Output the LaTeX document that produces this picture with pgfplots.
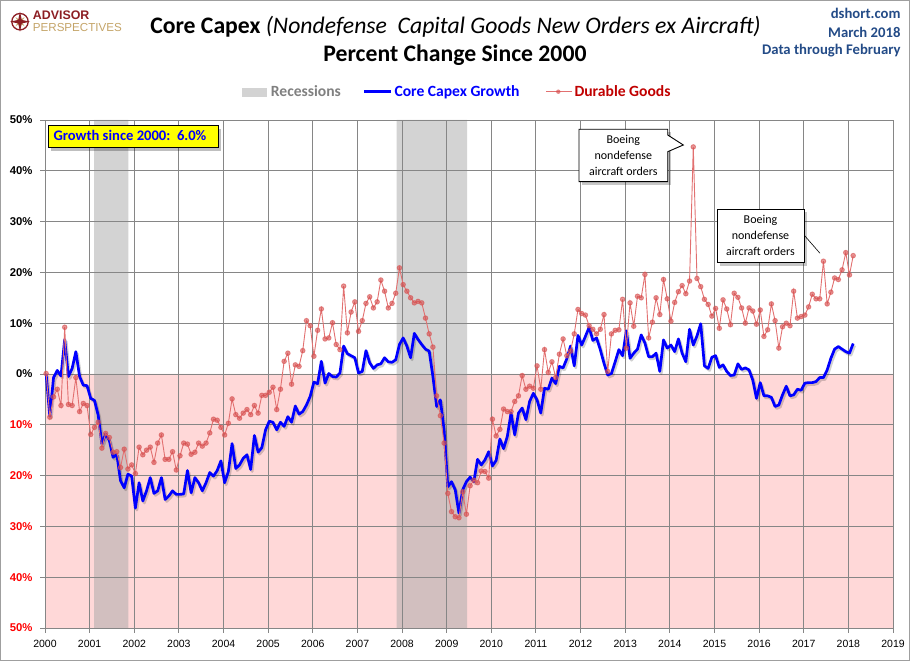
\documentclass[border=0pt]{standalone}
\usepackage{pgfplots}
\pgfplotsset{compat=1.18}
\usepackage{pgfplotstable}
\usepackage{fontspec}
\setmainfont{Carlito}
\newfontfamily\tickfont{Liberation Sans}
\definecolor{gridgray}{RGB}{134,134,134}
\definecolor{pinkbg}{RGB}{255,216,216}
\definecolor{recgray}{RGB}{211,211,211}
\definecolor{recpink}{RGB}{210,191,191}
\definecolor{coreblue}{RGB}{0,0,255}
\definecolor{durred}{RGB}{215,80,80}
\definecolor{durline}{RGB}{226,112,112}
\definecolor{legred}{RGB}{192,0,0}
\definecolor{hdrblue}{RGB}{35,75,135}
\definecolor{apred}{RGB}{140,30,35}
\definecolor{aptan}{RGB}{196,164,104}
\definecolor{negred}{RGB}{255,0,0}
\definecolor{leggray}{RGB}{128,128,128}
\definecolor{boxyellow}{RGB}{255,255,0}

\pgfplotstableread{
m core dur
0 0 0.1
1 -8.3 -8.5
2 -0.7 -4.5
3 0.7 -3
4 -0.4 -6.2
5 6.8 9.2
6 -0.5 -6
7 1.1 -6.2
8 4.4 -0.7
9 -0.5 -7.4
10 -2.2 -5.8
11 -2.3 -6.2
12 -4.8 -11.9
13 -5.2 -10.5
14 -8.1 -9.5
15 -13.8 -14.6
16 -11.8 -11.7
17 -13.1 -12.5
18 -16.4 -15.4
19 -15.8 -15.3
20 -21 -18.4
21 -22.4 -14.8
22 -19.7 -18.7
23 -20.1 -17.9
24 -26.4 -19.6
25 -21.4 -14.4
26 -25 -15.9
27 -23 -15
28 -20.4 -14.4
29 -23.5 -17.4
30 -23 -13.6
31 -20.4 -12
32 -24.7 -16.8
33 -24 -16.8
34 -23 -15.3
35 -23.7 -18.9
36 -23.7 -16.1
37 -23.6 -13.6
38 -19 -13.8
39 -23.4 -15.8
40 -20.4 -15.4
41 -21.4 -13.6
42 -23 -14.2
43 -21.4 -13.6
44 -19.4 -11.6
45 -20.1 -8.9
46 -19 -9.1
47 -17.1 -10.5
48 -21.4 -12
49 -19.2 -9.7
50 -13.7 -4.9
51 -18.6 -8
52 -17.9 -8.7
53 -16.6 -7.7
54 -15.9 -7
55 -18.8 -8
56 -12.1 -6.2
57 -15.4 -7.7
58 -14.5 -4.2
59 -11 -4.2
60 -9.3 -3.6
61 -9.5 -2.6
62 -11 -7
63 -9.5 -3
64 -10.3 2.5
65 -8.4 4.1
66 -9.5 -2
67 -6.3 1.8
68 -7.9 1.5
69 -7.4 4.6
70 -6.1 10.5
71 -4.4 9.5
72 -1.6 3.5
73 -1.9 8.6
74 2.5 12.8
75 -1.8 6.9
76 0.1 7.1
77 -0.5 10.1
78 -0.6 5.8
79 0.2 4.8
80 5.5 17.3
81 4 8.1
82 3.6 12.2
83 3.2 14.2
84 0.2 8.4
85 0.5 10.5
86 4.6 13.9
87 2.2 15.2
88 1.1 13
89 1.8 14.2
90 2 18.5
91 3.2 16.3
92 2.4 13
93 2.3 13.9
94 2.8 15.9
95 5.8 20.9
96 7.1 17.6
97 5.5 16.3
98 3.2 15
99 8.0 14
100 6.8 14.3
101 5.8 14
102 4.9 11
103 4.5 7.9
104 -0.5 5.3
105 -6.4 -4.3
106 -5.1 -8.2
107 -11 -13.6
108 -22.2 -23.5
109 -21.2 -27.1
110 -22.8 -28.1
111 -27.4 -28.3
112 -22.8 -23.2
113 -21.2 -27.6
114 -20.3 -22
115 -21.2 -20.9
116 -16.8 -21.4
117 -17.9 -19.1
118 -16.9 -19.2
119 -15.3 -20.5
120 -18.1 -8.9
121 -17 -12.2
122 -12.8 -10.9
123 -14.7 -6.9
124 -12.3 -7.4
125 -7.7 -7.4
126 -12 -5.4
127 -7.7 -4.3
128 -6.7 -0.3
129 -9 -3
130 -5.4 -2.4
131 -3.8 -2.8
132 -5.1 1.6
133 -7.7 -3
134 -2.8 4.8
135 -3 0.3
136 -0.8 2.4
137 -1.9 -0.7
138 1.5 3.9
139 1.2 6.9
140 3 3.6
141 5.5 4.5
142 1.6 7.9
143 7.6 12.7
144 5.7 11.9
145 7.4 11.6
146 9.2 9.5
147 6.6 8.8
148 7.1 7.9
149 4.8 8.8
150 2.1 11.7
151 -0.2 0.5
152 0.1 7.9
153 2.4 8.6
154 4.8 8.7
155 3.6 14.7
156 8.5 5.1
157 3.1 14
158 4.1 9.4
159 4.9 15.3
160 7.7 15
161 6.1 19.6
162 3.4 7.1
163 3.4 10.2
164 4.1 15
165 0.5 11.7
166 6.7 18.6
167 5.1 14.8
168 5.7 10.4
169 4.4 14.1
170 6.9 16.2
171 4.1 17.4
172 2.4 15.8
173 8.8 18.3
174 5.7 44.7
175 7.5 18.8
176 9.9 17.2
177 1.6 14.7
178 1.1 13.7
179 3.3 11.4
180 3.6 12.9
181 1.3 9
182 1.8 14.6
183 0.5 12.8
184 -0.3 9.7
185 -0.2 15.9
186 2.0 15.1
187 0.9 13
188 1.2 10
189 0.8 13
190 -1.2 12.4
191 -4.8 9.8
192 -1.7 12.6
193 -4.3 7.4
194 -4.3 8.7
195 -4.6 13.8
196 -6.4 10.5
197 -6.1 5.1
198 -4.1 9.3
199 -2.4 10
200 -4.3 9.5
201 -4.1 16.3
202 -3 11
203 -3.2 11.3
204 -1.8 11.6
205 -1.7 13.2
206 -1.7 15.7
207 -1.5 14.8
208 -0.7 14.8
209 -0.7 22.2
210 0.8 13.8
211 3.1 16.1
212 4.9 18.9
213 5.4 18.6
214 4.9 20.5
215 4.4 23.9
216 4.1 19.5
217 6.0 23.3
}\capexdata

\begin{document}
\begin{tikzpicture}
\draw[gray!75, line width=1pt] (0.5pt,0.5pt) rectangle (909.5pt,660.5pt);

\begin{axis}[
  at={(45pt,33pt)}, anchor=south west,
  scale only axis, width=848pt, height=508pt,
  set layers,
  xmin=2000, xmax=2019, ymin=-50, ymax=50,
  xtick={2000,2001,...,2019},
  xticklabels={2000,2001,2002,2003,2004,2005,2006,2007,2008,2009,2010,2011,2012,2013,2014,2015,2016,2017,2018,2019},
  ytick={-50,-40,...,50},
  yticklabels={{\color{negred}50\%},{\color{negred}40\%},{\color{negred}30\%},{\color{negred}20\%},{\color{negred}10\%},0\%,10\%,20\%,30\%,40\%,50\%},
  grid=major,
  major grid style={draw=gridgray, line width=0.9pt},
  axis line style={draw=gridgray, line width=0.9pt},
  tick style={draw=gridgray, line width=0.9pt},
  tick align=outside, major tick length=5pt,
  xtick pos=lower, ytick pos=left,
  xticklabel style={font={\tickfont\fontsize{10.5}{12}\selectfont}, yshift=-4pt},
  yticklabel style={font={\tickfont\bfseries\fontsize{11.3}{13}\selectfont}, xshift=-4pt},
]
\addplot[draw=none, fill=pinkbg, on layer=axis background] coordinates {(2000,-50) (2019,-50) (2019,0) (2000,0) (2000,-50)};
\addplot[draw=none, fill=recgray, on layer=axis background] coordinates {(2001.10,0) (2001.87,0) (2001.87,50) (2001.10,50) (2001.10,0)};
\addplot[draw=none, fill=recpink, on layer=axis background] coordinates {(2001.10,-50) (2001.87,-50) (2001.87,0) (2001.10,0) (2001.10,-50)};
\addplot[draw=none, fill=recgray, on layer=axis background] coordinates {(2007.88,0) (2009.46,0) (2009.46,50) (2007.88,50) (2007.88,0)};
\addplot[draw=none, fill=recpink, on layer=axis background] coordinates {(2007.88,-50) (2009.46,-50) (2009.46,0) (2007.88,0) (2007.88,-50)};

\addplot[black, opacity=0.18, line width=2.7pt, line join=round, xshift=1.5pt, yshift=-2pt]
  table[x expr=2000+(\thisrow{m}+0.3)/12, y=core] {\capexdata};
\addplot[coreblue, line width=2.7pt, line join=round]
  table[x expr=2000+(\thisrow{m}+0.3)/12, y=core] {\capexdata};
\addplot[durline, line width=0.9pt, mark=*, mark size=2.3pt,
  mark options={draw=durred, fill=durred, draw opacity=0.6, fill opacity=0.6}]
  table[x expr=2000+(\thisrow{m}+0.3)/12, y=dur] {\capexdata};
\end{axis}

\begin{scope}[x=1pt,y=1pt]
% logo
\begin{scope}[shift={(20,639.3)}]
  \draw[apred, line width=1.3pt] (0,0) circle (8.2);
  \fill[aptan] (0,1.6) -- (45:6.5) -- (1.6,0) -- (-45:6.5) -- (0,-1.6) -- (-135:6.5) -- (-1.6,0) -- (135:6.5) -- cycle;
  \fill[apred] (0,10) -- (1.8,1.8) -- (10,0) -- (1.8,-1.8) -- (0,-10) -- (-1.8,-1.8) -- (-10,0) -- (-1.8,1.8) -- cycle;
\end{scope}
\node[anchor=base west, inner sep=0, text=apred, font={\tickfont\bfseries\fontsize{12.4}{14}\selectfont}] at (32.7,641.9) {ADVISOR};
\node[anchor=base west, inner sep=0, text=aptan, font={\tickfont\fontsize{11.6}{13}\selectfont}] at (32.7,629.6) {PERSPECTIVES};

% titles
\node[anchor=base, inner sep=0, font=\fontsize{23.7}{27}\selectfont] at (455.5,627.7)
  {\textbf{Core Capex} \textit{(Nondefense\ \ Capital Goods New Orders ex Aircraft)}};
\node[anchor=base, inner sep=0, font=\bfseries\fontsize{23.7}{27}\selectfont] at (455,599.3)
  {Percent Change Since 2000};

\node[anchor=base east, inner sep=0, text=hdrblue, font=\bfseries\fontsize{14.7}{17}\selectfont] at (900.7,642) {dshort.com};
\node[anchor=base east, inner sep=0, text=hdrblue, font=\bfseries\fontsize{14.7}{17}\selectfont] at (900.7,623.7) {March 2018};
\node[anchor=base east, inner sep=0, text=hdrblue, font=\bfseries\fontsize{14.7}{17}\selectfont] at (900.7,606) {Data through February};

% legend
\fill[recgray] (242.3,564.3) rectangle (266.7,572.7);
\node[anchor=base west, inner sep=0, text=leggray, font=\bfseries\fontsize{15.6}{18}\selectfont] at (270.7,564.3) {Recessions};
\draw[coreblue, line width=2.5pt] (364.3,569.3) -- (391,569.3);
\node[anchor=base west, inner sep=0, text=coreblue, font=\bfseries\fontsize{15.6}{18}\selectfont] at (394.3,564.3) {Core Capex Growth};
\draw[durline, line width=1pt] (546,569.3) -- (571.7,569.3);
\fill[durred, opacity=0.7] (558.3,569.3) circle (2.2);
\node[anchor=base west, inner sep=0, text=legred, font=\bfseries\fontsize{15.6}{18}\selectfont] at (574.3,564.3) {Durable Goods};

% growth box
\fill[black, opacity=0.25] (51.3,510) rectangle (221.3,532.3);
\draw[black, line width=1pt, fill=boxyellow] (48.3,513) rectangle (218.3,535.3);
\node[anchor=base west, inner sep=0, text=coreblue, font=\bfseries\fontsize{14.6}{17}\selectfont] at (53.3,520) {Growth since 2000:\ \ 6.0\%};

% callout 1
\fill[black, opacity=0.22] (582,528.7) -- (670.7,528.7) -- (670.7,476.3) -- (582,476.3) -- cycle;
\draw[black, line width=0.9pt, fill=white] (579,531.7) -- (667.7,531.7) -- (667.7,526) -- (683.3,516) -- (667.7,509.3) -- (667.7,479.3) -- (579,479.3) -- cycle;
\node[anchor=base, inner sep=0, font=\fontsize{12}{14}\selectfont] at (623.3,517) {Boeing};
\node[anchor=base, inner sep=0, font=\fontsize{12}{14}\selectfont] at (623.3,501) {nondefense};
\node[anchor=base, inner sep=0, font=\fontsize{12}{14}\selectfont] at (623.3,485) {aircraft orders};

% callout 2
\draw[black, line width=0.6pt] (804,426) -- (820,407.7);
\fill[black, opacity=0.22] (720,449) rectangle (807,395.3);
\draw[black, line width=0.9pt, fill=white] (717,452) rectangle (804,398.3);
\node[anchor=base, inner sep=0, font=\fontsize{12}{14}\selectfont] at (760.5,437.7) {Boeing};
\node[anchor=base, inner sep=0, font=\fontsize{12}{14}\selectfont] at (760.5,421.3) {nondefense};
\node[anchor=base, inner sep=0, font=\fontsize{12}{14}\selectfont] at (760.5,405) {aircraft orders};
\end{scope}
\pgfresetboundingbox
\path[use as bounding box] (0pt,0pt) rectangle (910pt,661pt);
\end{tikzpicture}
\end{document}
